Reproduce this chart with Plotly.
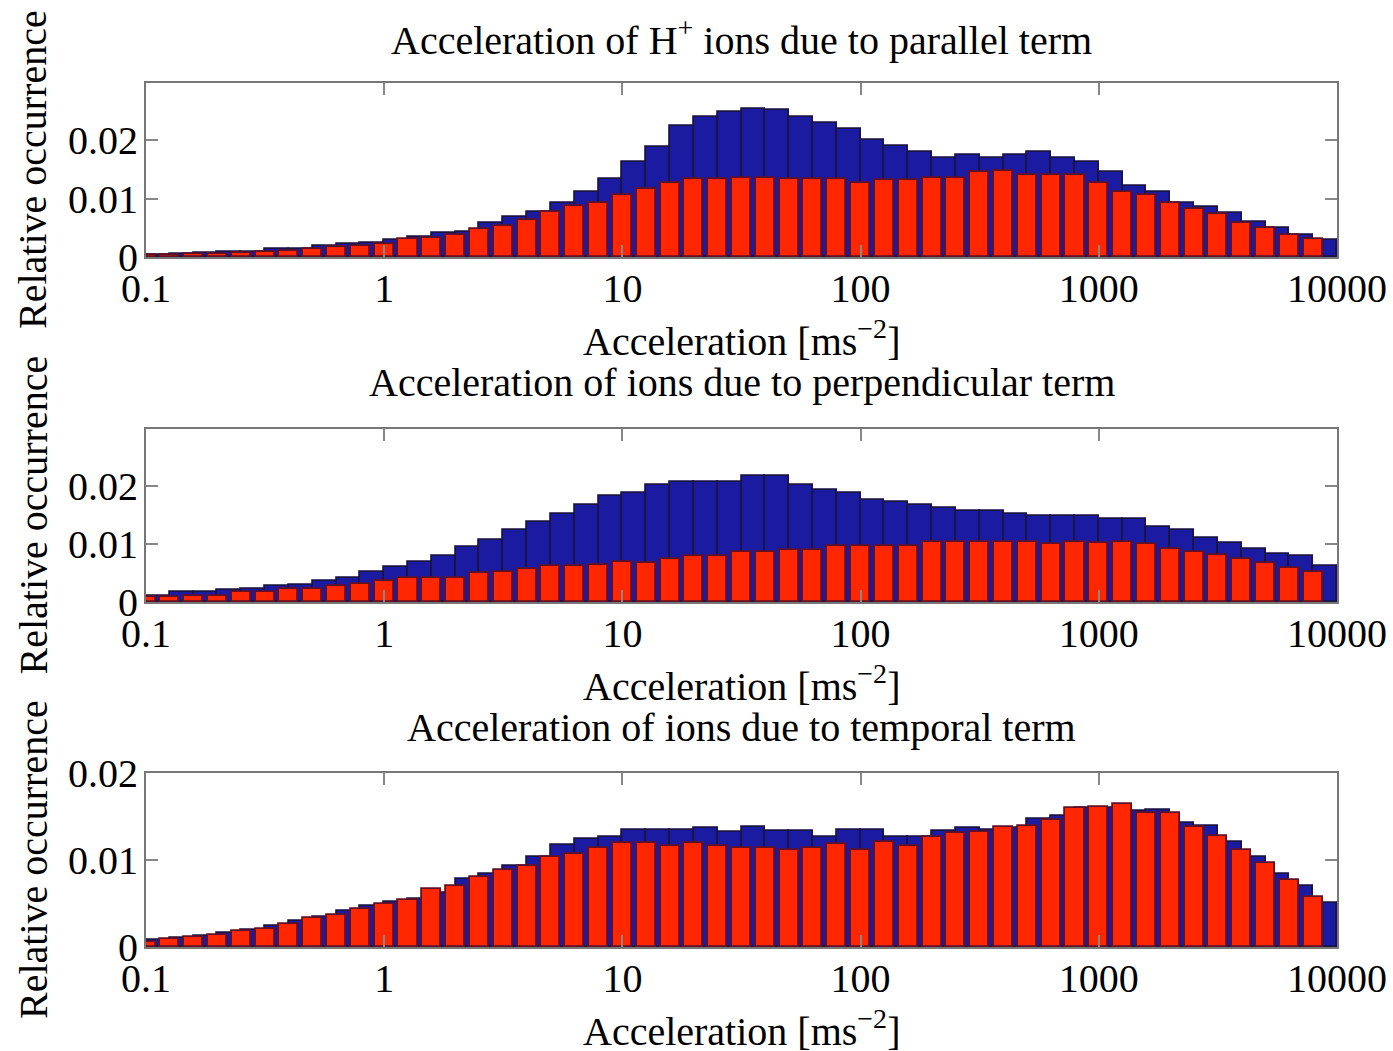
import numpy as np
import plotly.graph_objects as go

# Histogram bins: 10 per decade from 0.1 to 10000 m/s^2 (log10 exponents)
bin_exponents = np.linspace(-1.0, 4.0, 51)

# Relative occurrence per bin, parallel term (H+)
parallel_blue = [0.0003, 0.0006, 0.0007, 0.0008, 0.0009, 0.0013, 0.0014, 0.0019, 0.0023, 0.0024,
                 0.0029, 0.0034, 0.0041, 0.0043, 0.0058, 0.0068, 0.0077, 0.0093, 0.0112, 0.0133,
                 0.0162, 0.0189, 0.0225, 0.0239, 0.0249, 0.0254, 0.0251, 0.0239, 0.0230, 0.0219,
                 0.0200, 0.0190, 0.0180, 0.0169, 0.0175, 0.0169, 0.0175, 0.0180, 0.0170, 0.0162,
                 0.0146, 0.0121, 0.0112, 0.0093, 0.0085, 0.0075, 0.0060, 0.0050, 0.0038, 0.0029]
parallel_red = [0.0003, 0.0003, 0.0005, 0.0005, 0.0007, 0.0009, 0.0011, 0.0013, 0.0017, 0.0019,
                0.0023, 0.0030, 0.0033, 0.0037, 0.0048, 0.0053, 0.0063, 0.0077, 0.0087, 0.0093,
                0.0106, 0.0117, 0.0126, 0.0133, 0.0133, 0.0136, 0.0136, 0.0133, 0.0133, 0.0134,
                0.0127, 0.0132, 0.0132, 0.0136, 0.0136, 0.0146, 0.0147, 0.0141, 0.0141, 0.0140,
                0.0127, 0.0112, 0.0107, 0.0093, 0.0083, 0.0073, 0.0058, 0.0049, 0.0038, 0.0030]

# Perpendicular term
perp_blue = [0.0010, 0.0017, 0.0017, 0.0021, 0.0023, 0.0027, 0.0030, 0.0036, 0.0041, 0.0051,
             0.0060, 0.0070, 0.0080, 0.0095, 0.0108, 0.0124, 0.0138, 0.0152, 0.0168, 0.0183,
             0.0188, 0.0203, 0.0207, 0.0207, 0.0207, 0.0217, 0.0217, 0.0203, 0.0193, 0.0188,
             0.0177, 0.0172, 0.0168, 0.0163, 0.0158, 0.0157, 0.0152, 0.0148, 0.0148, 0.0148,
             0.0144, 0.0144, 0.0130, 0.0124, 0.0111, 0.0102, 0.0091, 0.0083, 0.0079, 0.0062]
perp_red = [0.0009, 0.0008, 0.0010, 0.0011, 0.0017, 0.0017, 0.0022, 0.0023, 0.0027, 0.0031,
            0.0036, 0.0041, 0.0041, 0.0041, 0.0050, 0.0051, 0.0057, 0.0062, 0.0062, 0.0064,
            0.0070, 0.0068, 0.0075, 0.0080, 0.0080, 0.0086, 0.0086, 0.0090, 0.0090, 0.0096,
            0.0096, 0.0096, 0.0096, 0.0103, 0.0104, 0.0104, 0.0104, 0.0104, 0.0101, 0.0104,
            0.0102, 0.0104, 0.0100, 0.0091, 0.0087, 0.0081, 0.0075, 0.0067, 0.0058, 0.0051]

# Temporal term
temp_blue = [0.0008, 0.0010, 0.0013, 0.0016, 0.0020, 0.0024, 0.0030, 0.0035, 0.0041, 0.0047,
             0.0052, 0.0055, 0.0062, 0.0078, 0.0084, 0.0093, 0.0104, 0.0117, 0.0124, 0.0127,
             0.0134, 0.0134, 0.0134, 0.0137, 0.0132, 0.0138, 0.0133, 0.0133, 0.0126, 0.0134,
             0.0134, 0.0127, 0.0127, 0.0133, 0.0137, 0.0134, 0.0137, 0.0147, 0.0151, 0.0160,
             0.0160, 0.0156, 0.0158, 0.0143, 0.0139, 0.0121, 0.0103, 0.0084, 0.0070, 0.0051]
temp_red = [0.0006, 0.0009, 0.0011, 0.0014, 0.0018, 0.0021, 0.0026, 0.0033, 0.0037, 0.0044,
            0.0050, 0.0054, 0.0067, 0.0070, 0.0081, 0.0088, 0.0093, 0.0103, 0.0107, 0.0114,
            0.0120, 0.0120, 0.0116, 0.0120, 0.0116, 0.0114, 0.0114, 0.0111, 0.0114, 0.0118,
            0.0112, 0.0121, 0.0116, 0.0127, 0.0131, 0.0132, 0.0138, 0.0139, 0.0146, 0.0160,
            0.0161, 0.0164, 0.0154, 0.0154, 0.0138, 0.0128, 0.0111, 0.0097, 0.0077, 0.0058]

titles = ["Acceleration of H<sup>+</sup> ions due to parallel term",
          "Acceleration of ions due to perpendicular term",
          "Acceleration of ions due to temporal term"]
x_title = "Acceleration [ms<sup>\u22122</sup>]"
y_title = "Relative occurrence"
x_tickvals = [0.1, 1, 10, 100, 1000, 10000]
x_ticktext = ["0.1", "1", "10", "100", "1000", "10000"]
y_tickvals = [0, 0.01, 0.02]
y_ticktext = ["0", "0.01", "0.02"]
y_tops = [0.0298, 0.0299, 0.02]

panels = [(parallel_blue, parallel_red), (perp_blue, perp_red), (temp_blue, temp_red)]

W, H = 1393, 1051
# panel pixel boxes (top, bottom); shared left/right
px_left, px_right = 146, 1337
px_rows = [(83, 257), (429, 602), (773, 947)]

FONT = "Liberation Serif"
FS = 40

# blue bars fill their whole bin; red bars are narrower and centred on the bin edges
lo = 10 ** bin_exponents[:-1]
hi = 10 ** bin_exponents[1:]
blue_x = (lo + hi) / 2
blue_w = hi - lo
red_c = bin_exponents[:-1]
red_lo = 10 ** (red_c - 0.04)
red_hi = 10 ** (red_c + 0.04)
red_x = (red_lo + red_hi) / 2
red_w = red_hi - red_lo

fig = go.Figure()
for i, (b, r) in enumerate(panels):
    sfx = "" if i == 0 else str(i + 1)
    fig.add_trace(go.Bar(x=blue_x, y=b, width=blue_w, xaxis="x" + sfx, yaxis="y" + sfx,
                         marker=dict(color="#1a1ba0", line=dict(color="rgb(26,20,70)", width=1.8)),
                         showlegend=False))
    fig.add_trace(go.Bar(x=red_x, y=r, width=red_w, xaxis="x" + sfx, yaxis="y" + sfx,
                         marker=dict(color="#ff2600", line=dict(color="rgb(100,16,36)", width=1.8)),
                         showlegend=False))

axis_common = dict(showline=True, linecolor="#777777", linewidth=2, mirror="allticks",
                   ticks="inside", ticklen=12, tickwidth=2, tickcolor="#888888",
                   showgrid=False, zeroline=False, automargin=False,
                   tickfont=dict(family=FONT, size=FS, color="black"))

layout = dict(width=W, height=H, margin=dict(l=0, r=0, t=0, b=0, pad=0, autoexpand=False),
              paper_bgcolor="white", plot_bgcolor="white", barmode="overlay", bargap=0,
              font=dict(family=FONT, size=FS, color="black"))
annotations = []
for i, (top, bot) in enumerate(px_rows):
    sfx = "" if i == 0 else str(i + 1)
    dom_y = [1 - bot / H, 1 - top / H]
    layout["xaxis" + sfx] = dict(axis_common, type="log", range=[-1, 4],
                                 domain=[px_left / W, px_right / W], anchor="y" + sfx,
                                 tickvals=x_tickvals, ticktext=x_ticktext, ticklabelstandoff=-5)
    layout["yaxis" + sfx] = dict(axis_common, range=[0, y_tops[i]], domain=dom_y,
                                 anchor="x" + sfx, tickvals=y_tickvals, ticktext=y_ticktext,
                                 ticklabelstandoff=-2)
    cx = (px_left + px_right) / 2 / W
    annotations.append(dict(text=titles[i], x=cx, y=1 - (top - 46) / H, xref="paper", yref="paper",
                            xanchor="center", yanchor="middle", showarrow=False,
                            font=dict(family=FONT, size=FS, color="black")))
    annotations.append(dict(text=x_title, x=cx, y=1 - (bot + 81) / H, xref="paper", yref="paper",
                            xanchor="center", yanchor="middle", showarrow=False,
                            font=dict(family=FONT, size=FS, color="black")))
    annotations.append(dict(text=y_title, x=33 / W, y=1 - (top + bot) / 2 / H, xref="paper",
                            yref="paper", xanchor="center", yanchor="middle", textangle=-90,
                            showarrow=False, font=dict(family=FONT, size=FS, color="black")))
layout["annotations"] = annotations
fig.update_layout(**layout)

fig.write_html("out.html")
